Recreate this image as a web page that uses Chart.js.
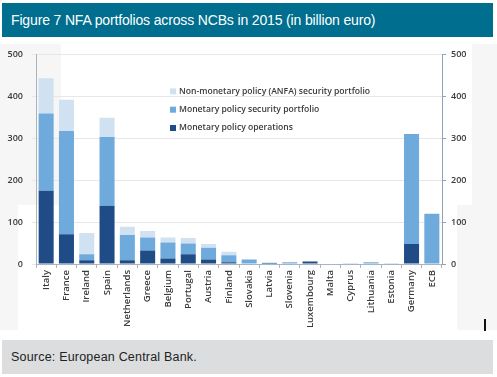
<!DOCTYPE html>
<html>
<head>
<meta charset="utf-8">
<script src="https://cdn.jsdelivr.net/npm/chart.js@4.4.1/dist/chart.umd.min.js"></script>
<style>
  html, body { margin: 0; padding: 0; background: #fff; }
  #page { position: relative; width: 497px; height: 377px; overflow: hidden; background: #fff; }
  #title {
    position: absolute; left: 2px; top: 3px; width: 491px; height: 34px;
    background: #006e8e; color: #fff;
    font: 14px "Liberation Sans", Arial, sans-serif; letter-spacing: -0.15px;
    line-height: 34px; padding-left: 9px; box-sizing: border-box;
  }
  #source {
    position: absolute; left: 2px; top: 340px; width: 491px; height: 34px;
    background: #dcdddf; color: #222;
    font: 12.5px "Liberation Sans", Arial, sans-serif; letter-spacing: 0.2px;
    line-height: 34px; padding-left: 9px; box-sizing: border-box;
  }
  .shade { position: absolute; background: #f6f6f6; }
  #chartBox { position: absolute; left: 0; top: 40px; width: 497px; height: 295px; }
  #cursor { position: absolute; left: 484px; top: 319px; width: 2px; height: 12px; background: #111; }
</style>
</head>
<body>
<div id="page">
  <div class="shade" style="left:0;top:44px;width:61px;height:161px"></div>
  <div class="shade" style="left:0;top:205px;width:18px;height:125px"></div>
  <div class="shade" style="left:472px;top:44px;width:25px;height:161px"></div>
  <div class="shade" style="left:457px;top:205px;width:40px;height:125px"></div>
  <div id="title">Figure 7 NFA portfolios across NCBs in 2015 (in billion euro)</div>
  <div id="chartBox"><canvas id="chart" width="497" height="295"></canvas></div>
  <div id="cursor"></div>
  <div id="source">Source: European Central Bank.</div>
</div>
<script>
const countries = ["Italy", "France", "Ireland", "Spain", "Netherlands", "Greece", "Belgium", "Portugal",
  "Austria", "Finland", "Slovakia", "Latvia", "Slovenia", "Luxembourg", "Malta", "Cyprus",
  "Lithuania", "Estonia", "Germany", "ECB"];

// billion euro, stacked bottom to top
const policyOperations = [175, 71, 9, 139, 9, 32, 13, 23, 11, 4, 1, 0.5, 1, 6, 0, 0, 0, 0, 48, 0];
const policyPortfolio  = [184, 246, 14, 164, 60, 31, 38, 26, 28, 17, 10, 2.5, 3, 0, 0, 2, 4, 2, 262, 120];
const anfaPortfolio    = [84, 75, 51, 46, 20, 16, 12, 13, 9, 8, 0, 0, 0, 0, 1, 0, 0, 0, 0, 0];

const yTicks = [0, 100, 200, 300, 400, 500];

const textColor = "#3a3a3a";
const tickFont = { family: "'Open Sans', sans-serif", size: 9, weight: "600" };

// legend drawn inside the plot, light series first
const insideLegend = {
  id: "insideLegend",
  afterDraw(chart) {
    const ctx = chart.ctx;
    const area = chart.chartArea;
    const items = chart.data.datasets.slice().reverse();
    ctx.save();
    ctx.font = "600 8.6px 'Open Sans', sans-serif";
    ctx.textBaseline = "middle";
    items.forEach(function (ds, i) {
      const x = area.left + 134;
      const y = area.top + 37 + i * 18.3;
      ctx.fillStyle = ds.backgroundColor;
      ctx.fillRect(x, y - 3, 6, 6);
      ctx.fillStyle = textColor;
      ctx.fillText(ds.label, x + 9, y);
    });
    ctx.restore();
  },
};

new Chart(document.getElementById("chart"), {
  type: "bar",
  data: {
    labels: countries,
    datasets: [
      { label: "Monetary policy operations", data: policyOperations, backgroundColor: "#1f4c87" },
      { label: "Monetary policy security portfolio", data: policyPortfolio, backgroundColor: "#6eaadc" },
      { label: "Non-monetary policy (ANFA) security portfolio", data: anfaPortfolio, backgroundColor: "#d0e2f2" },
    ],
  },
  options: {
    responsive: false,
    animation: false,
    devicePixelRatio: 1,
    layout: { padding: { top: 14, left: 0, right: 0, bottom: 0 } },
    datasets: { bar: { barPercentage: 0.74, categoryPercentage: 1 } },
    plugins: { legend: { display: false }, tooltip: { enabled: false } },
    scales: {
      x: {
        stacked: true,
        afterFit: (scale) => { scale.height = 71; },
        grid: { display: true, drawOnChartArea: false, drawTicks: true, tickLength: 4, color: "#a9b4be", offset: true },
        border: { display: true, color: "#a9b4be" },
        ticks: { color: textColor, font: { family: "'Open Sans', sans-serif", size: 9.5, weight: "600" }, maxRotation: 90, minRotation: 90, autoSkip: false, padding: 2 },
      },
      y: {
        stacked: true,
        position: "left",
        min: 0, max: 500,
        afterFit: (scale) => { scale.width = 36; },
        afterBuildTicks: (scale) => { scale.ticks = yTicks.map((v) => ({ value: v })); },
        grid: { color: "#ebe5e5", tickLength: 4, drawTicks: true },
        border: { display: true, color: "#a9b4be" },
        ticks: { color: textColor, font: tickFont, padding: 9 },
      },
      y2: {
        position: "right",
        min: 0, max: 500,
        afterFit: (scale) => { scale.width = 55; },
        afterBuildTicks: (scale) => { scale.ticks = yTicks.map((v) => ({ value: v })); },
        grid: { drawOnChartArea: false, drawTicks: true, tickLength: 4, color: "#8ea3b6" },
        border: { display: true, color: "#8ea3b6" },
        ticks: { color: textColor, font: tickFont, padding: 5 },
      },
    },
  },
  plugins: [insideLegend],
});
</script>
</body>
</html>
